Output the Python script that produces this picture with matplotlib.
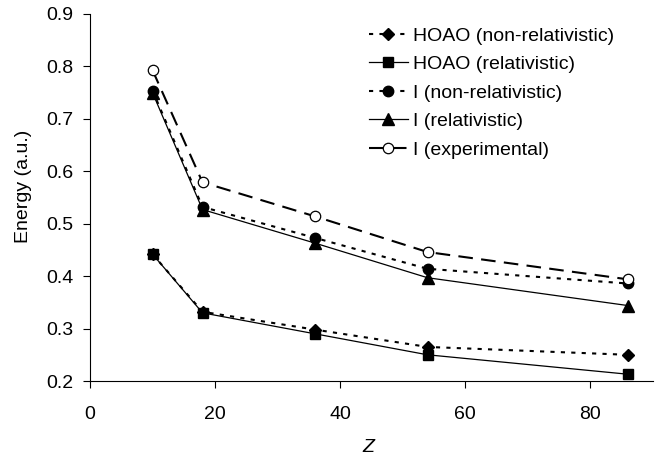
import matplotlib
matplotlib.use("Agg")
import matplotlib.pyplot as plt

plt.rcParams["font.family"] = ["Liberation Sans", "DejaVu Sans"]

z = [10, 18, 36, 54, 86]
hoao_nonrel = [0.442, 0.332, 0.298, 0.265, 0.250]
hoao_rel = [0.442, 0.330, 0.290, 0.250, 0.213]
i_nonrel = [0.754, 0.532, 0.473, 0.414, 0.386]
i_rel = [0.750, 0.527, 0.463, 0.397, 0.344]
i_exp = [0.793, 0.579, 0.514, 0.446, 0.394]

W, H = 662, 457
fig = plt.figure(figsize=(W / 100, H / 100), dpi=100)
# axes box in pixels: x 90..652.5, y 14..381
ax = fig.add_axes([90 / W, (H - 381) / H, 562.5 / W, 367 / H])

ax.plot(z, hoao_nonrel, color="black", ls=(0, (2, 3)), lw=1.5, marker="D",
        ms=6.5, label="HOAO (non-relativistic)")
ax.plot(z, hoao_rel, color="black", ls="-", lw=0.9, marker="s", ms=7.5,
        label="HOAO (relativistic)")
ax.plot(z, i_nonrel, color="black", ls=(0, (2, 3)), lw=1.5, marker="o",
        ms=7.5, label="I (non-relativistic)")
ax.plot(z, i_rel, color="black", ls="-", lw=0.9, marker="^", ms=8,
        label="I (relativistic)")
ax.plot(z, i_exp, color="black", ls=(0, (7, 4)), lw=1.5, marker="o", ms=7.5,
        mfc="white", mew=0.9, label="I (experimental)")

ax.set_xlim(0, 90)
ax.set_ylim(0.2, 0.9)
ax.set_xticks([0, 20, 40, 60, 80])
ax.set_yticks([0.2, 0.3, 0.4, 0.5, 0.6, 0.7, 0.8, 0.9])
ax.set_yticklabels(["0.2", "0.3", "0.4", "0.5", "0.6", "0.7", "0.8", "0.9"])
ax.spines["top"].set_visible(False)
ax.spines["right"].set_visible(False)
ax.tick_params(labelsize=14, direction="out", length=5)
ax.tick_params(axis="x", pad=13)
ax.tick_params(axis="y", pad=7)

ax.set_xlabel("Z", fontsize=14, style="italic", va="center")
ax.xaxis.set_label_coords((368 - 90) / 562.5, (381 - 447) / 367)
ax.set_ylabel("Energy (a.u.)", fontsize=14, va="center")
ax.yaxis.set_label_coords((24 - 90) / 562.5, (381 - 186) / 367)

ax.legend(loc="upper left", bbox_to_anchor=(369 / W, 1 - 27 / H),
          bbox_transform=fig.transFigure, frameon=False, fontsize=14,
          borderpad=0, borderaxespad=0, handlelength=2.0, handletextpad=0.25,
          labelspacing=0.56, numpoints=1)

fig.savefig("out.png", dpi=100)
